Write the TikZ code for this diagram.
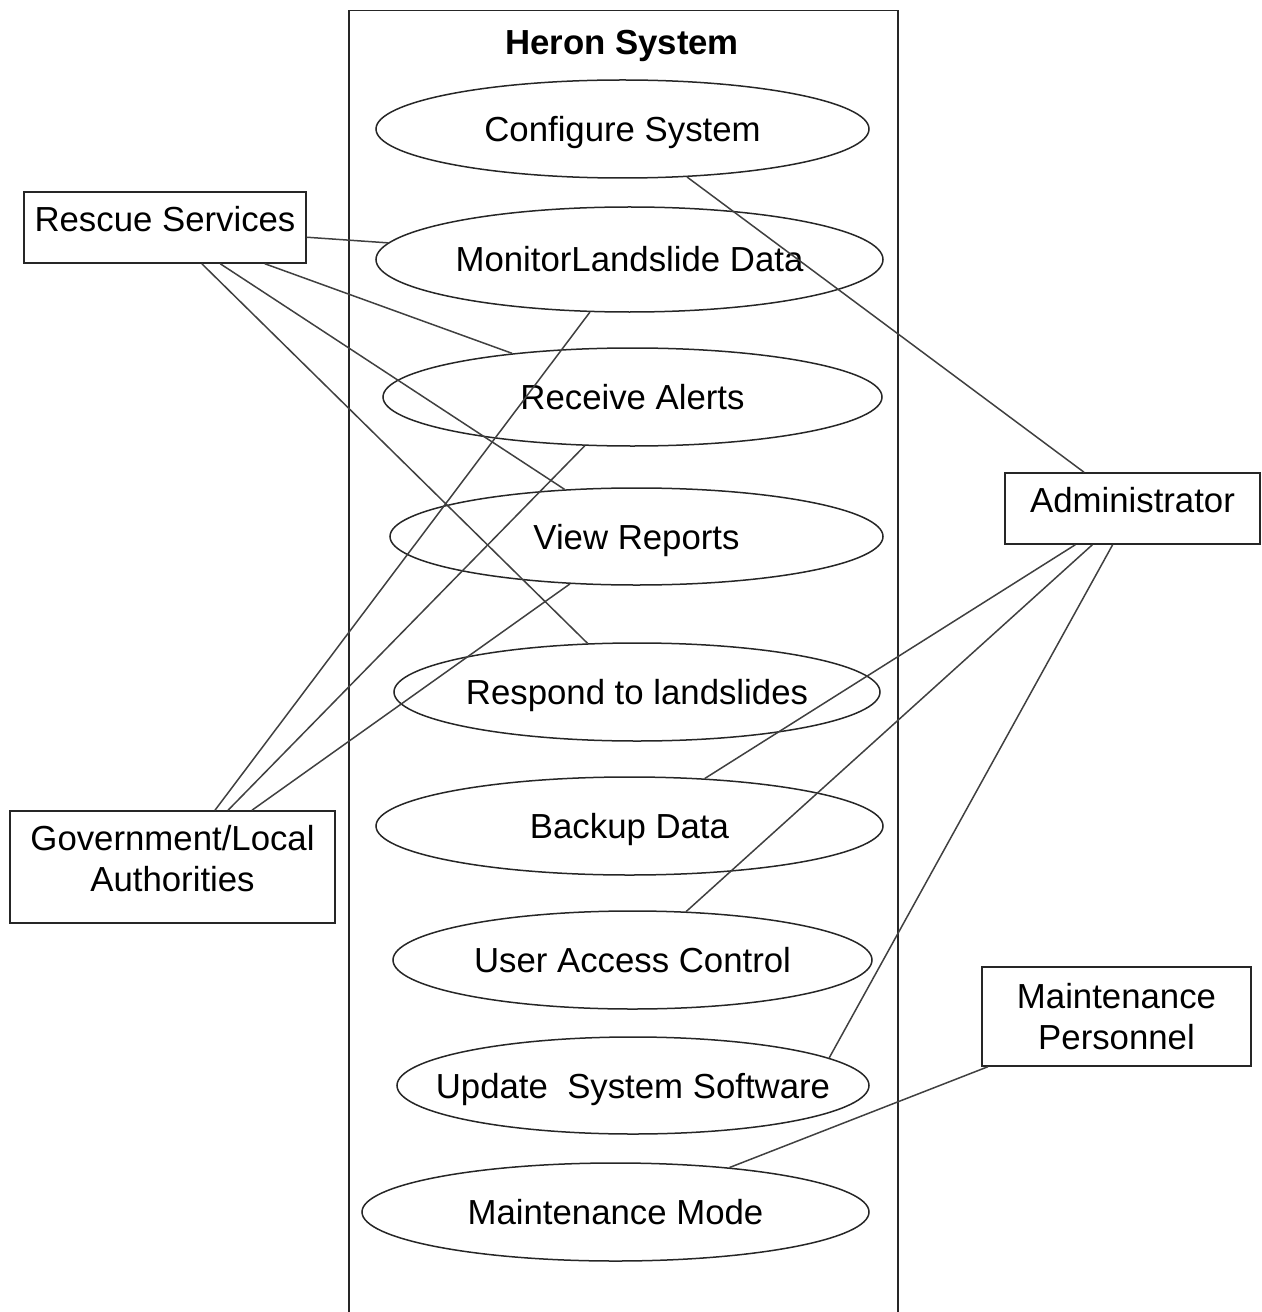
\documentclass[tikz,border=0pt]{standalone}
\usepackage{fontspec}
\setmainfont{Liberation Sans}
\usetikzlibrary{shapes.geometric}

\begin{document}
\begin{tikzpicture}[x=1bp, y=-1bp,
        every node/.style={font=\fontsize{34.9}{41.2}\selectfont},
        frame/.style={shape=rectangle, draw=black!85, line width=1.5bp, inner sep=0pt},
        usecase/.style={shape=ellipse, draw=black!85, line width=1.5bp, inner xsep=-2cm, inner ysep=0pt, text height=25bp, text depth=0pt},
        actor/.style={shape=rectangle, draw=black!85, line width=1.5bp, inner sep=0pt, align=center},
        actortext/.style={label={[yshift=8bp, align=center]center:#1}},
        link/.style={draw=black!75, line width=1.5bp}]

        \useasboundingbox (0,0) rectangle (1261,1312);

        \node[frame, anchor=north west, minimum width=549bp, minimum height=1340bp] (system) at (348,10) {};
        \node[font=\fontsize{34.9}{41.2}\selectfont\bfseries, text height=25bp, text depth=0pt] (title) at (622,42.5) {Heron System};

        \node[usecase, minimum width=493bp, minimum height=98bp] (conf) at (622.5,129) {Configure System};
        \node[usecase, minimum width=507bp, minimum height=105bp] (monitor) at (629.5,259.5) {MonitorLandslide Data};
        \node[usecase, minimum width=499bp, minimum height=98bp] (alerts) at (632.5,397) {Receive Alerts};
        \node[usecase, minimum width=493bp, minimum height=97bp] (reports) at (636.5,536.5) {View Reports};
        \node[usecase, minimum width=486bp, minimum height=98bp] (respond) at (637,692) {Respond to landslides};
        \node[usecase, minimum width=507bp, minimum height=98bp] (backup) at (629.5,826) {Backup Data};
        \node[usecase, minimum width=479bp, minimum height=98bp] (access) at (632.5,960) {User Access Control};
        \node[usecase, minimum width=472bp, minimum height=97bp] (update) at (633,1085.5) {Update \ System Software};
        \node[usecase, minimum width=507bp, minimum height=98bp] (maintmode) at (615.5,1212) {Maintenance Mode};

        \node[actor, actortext={Rescue Services}, minimum width=282bp, minimum height=71bp] (rescue) at (165,227.5) {};
        \node[actor, actortext={Government/Local\\Authorities}, minimum width=325bp, minimum height=112bp] (gov) at (172.5,867) {};
        \node[actor, actortext={Administrator}, minimum width=255bp, minimum height=71bp] (admin) at (1132.5,508.5) {};
        \node[actor, minimum width=269bp, minimum height=99bp] (maint) at (1116.5,1016.5) {Maintenance\\Personnel};

        \path[link] (rescue) edge (monitor);
        \path[link] (rescue) edge (alerts);
        \path[link] (rescue) edge (reports);
        \path[link] (rescue) edge (respond);
        \path[link] (gov) edge (monitor);
        \path[link] (gov) edge (alerts);
        \path[link] (gov) edge (reports);
        \path[link] (admin) edge (conf);
        \path[link] (admin) edge (backup);
        \path[link] (admin) edge (access);
        \path[link] (admin) edge (update.8);
        \path[link] (maint) edge (maintmode);

    \end{tikzpicture}
\end{document}
